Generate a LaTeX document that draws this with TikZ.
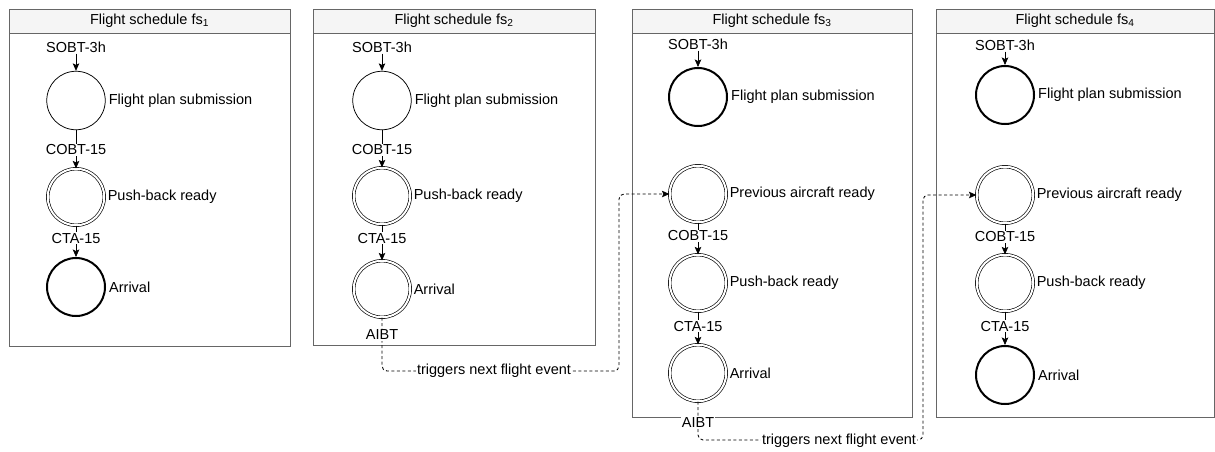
\documentclass[tikz,border=0pt]{standalone}
\usepackage{fontspec}
\setmainfont{Liberation Sans}
\usetikzlibrary{arrows.meta}
\definecolor{framegray}{HTML}{666666}
\definecolor{headfill}{HTML}{F5F5F5}
\tikzset{
  frame/.style={draw=framegray, line width=0.8pt},
  header/.style={draw=framegray, line width=0.8pt, fill=headfill},
  title/.style={font=\fontsize{14.5}{16}\selectfont, inner sep=0pt},
  evthin/.style={circle, draw, line width=0.75pt, minimum size=58.5pt, inner sep=0pt},
  evthick/.style={circle, draw, line width=2pt, minimum size=58pt, inner sep=0pt},
  evdouble/.style={circle, draw, double=white, double distance=2pt, line width=0.65pt, minimum size=56.5pt, inner sep=0pt},
  txt/.style={font=\fontsize{14.5}{16}\selectfont, inner sep=0pt, anchor=west, xshift=3pt},
  lbl/.style={font=\fontsize{14.5}{16}\selectfont, inner sep=1pt, fill=white},
  flow/.style={line width=0.75pt, -{Stealth[length=7.5pt,width=6.5pt,inset=1.5pt]}},
  trig/.style={line width=0.85pt, dash pattern=on 3pt off 2.5pt, rounded corners=5pt,
    -{Stealth[length=7.5pt,width=6.5pt,inset=1.5pt]}},
}
\begin{document}
\begin{tikzpicture}[x=1pt, y=-1pt]
\useasboundingbox (0,0) rectangle (1215,451);

% ---------- frames with headers ----------
\draw[frame] (9,33) rectangle (290,346);
\draw[header] (9,9) rectangle (290,33);
\node[title] (h1) at (149.5,21) {Flight schedule fs\textsubscript{1}};

\draw[frame] (313,33) rectangle (595,345);
\draw[header] (313,9) rectangle (595,33);
\node[title] (h2) at (454,21) {Flight schedule fs\textsubscript{2}};

\draw[frame] (632,33) rectangle (912,417);
\draw[header] (632,9) rectangle (912,33);
\node[title] (h3) at (772,21) {Flight schedule fs\textsubscript{3}};

\draw[frame] (936,33) rectangle (1214,417);
\draw[header] (936,9) rectangle (1214,33);
\node[title] (h4) at (1075,21) {Flight schedule fs\textsubscript{4}};

% ---------- schedule fs1 ----------
\node[evthin]   (a1) at (76,100.5) {};
\node[evdouble] (a2) at (76,197) {};
\node[evthick]  (a3) at (76,287) {};
\node[txt] at (a1.east) {Flight plan submission};
\node[txt] at (a2.east) {Push-back ready};
\node[txt] at (a3.east) {Arrival};
\node[lbl] (as) at (76,47) {SOBT-3h};
\draw[flow] (as.south) -- (a1.north);
\draw[flow] (a1) -- (a2);
\draw[flow] (a2) -- (a3);
\node[lbl] at (76,150) {COBT-15};
\node[lbl] at (76,238) {CTA-15};

% ---------- schedule fs2 ----------
\node[evthin]   (b1) at (382,100.5) {};
\node[evdouble] (b2) at (382,196) {};
\node[evdouble] (b3) at (382,289) {};
\node[txt] at (b1.east) {Flight plan submission};
\node[txt] at (b2.east) {Push-back ready};
\node[txt] at (b3.east) {Arrival};
\node[lbl] (bs) at (382,47) {SOBT-3h};
\draw[flow] (bs.south) -- (b1.north);
\draw[flow] (b1) -- (b2);
\draw[flow] (b2) -- (b3);
\node[lbl] at (382,150) {COBT-15};
\node[lbl] at (382,238) {CTA-15};

% ---------- schedule fs3 ----------
\node[evthick]  (c1) at (698,97) {};
\node[evdouble] (c2) at (698,194) {};
\node[evdouble] (c3) at (698,283) {};
\node[evdouble] (c4) at (698,373) {};
\node[txt] at (c1.east) {Flight plan submission};
\node[txt] at (c2.east) {Previous aircraft ready};
\node[txt] at (c3.east) {Push-back ready};
\node[txt] at (c4.east) {Arrival};
\node[lbl] (cs) at (698,44) {SOBT-3h};
\draw[flow] (cs.south) -- (c1.north);
\draw[flow] (c2) -- (c3);
\draw[flow] (c3) -- (c4);
\node[lbl] at (698,236) {COBT-15};
\node[lbl] at (698,326) {CTA-15};

% ---------- schedule fs4 ----------
\node[evthick]  (d1) at (1005,95) {};
\node[evdouble] (d2) at (1005,195) {};
\node[evdouble] (d3) at (1005,283) {};
\node[evthick]  (d4) at (1005,375) {};
\node[txt] at (d1.east) {Flight plan submission};
\node[txt] at (d2.east) {Previous aircraft ready};
\node[txt] at (d3.east) {Push-back ready};
\node[txt] at (d4.east) {Arrival};
\node[lbl] (ds) at (1005,45) {SOBT-3h};
\draw[flow] (ds.south) -- (d1.north);
\draw[flow] (d2) -- (d3);
\draw[flow] (d3) -- (d4);
\node[lbl] at (1005,237) {COBT-15};
\node[lbl] at (1005,326) {CTA-15};

% ---------- arrival of one flight triggers the next ----------
\coordinate (k1) at (619,371);
\coordinate (k2) at (923,440);
\draw[trig] (b3.south) |- (k1) |- (c2.west);
\draw[trig] (c4.south) |- (k2) |- (d2.west);
\node[lbl] (t1) at (494,371) {triggers next flight event};
\node[lbl] (t2) at (839,441) {triggers next flight event};
\node[lbl] (e2) at (382,335) {AIBT};
\node[lbl] (e3) at (698,423) {AIBT};
\end{tikzpicture}
\end{document}
